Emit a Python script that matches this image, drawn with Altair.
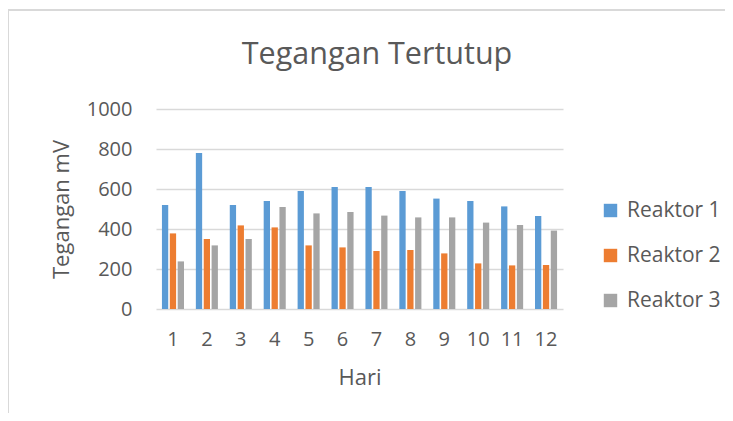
import altair as alt
import pandas as pd

hari = [str(i) for i in range(1, 13)]
reaktor1 = [520, 780, 520, 540, 590, 610, 610, 590, 552, 540, 513, 465]
reaktor2 = [378, 350, 418, 408, 318, 308, 290, 295, 278, 228, 218, 220]
reaktor3 = [238, 318, 350, 510, 478, 485, 467, 458, 458, 432, 420, 392]
series = ["Reaktor 1", "Reaktor 2", "Reaktor 3"]
colors = ["#5B9BD5", "#ED7D31", "#A5A5A5"]
title_text = ["Tegangan Tertutup"]

rows = []
for name, vals in zip(series, [reaktor1, reaktor2, reaktor3]):
    for h, v in zip(hari, vals):
        rows.append({"Hari": h, "Seri": name, "Nilai": v})
df = pd.DataFrame(rows)

FONT = "Open Sans"
TXT = "#595959"
BORDER = "#D9D9D9"

bars = alt.Chart(df).mark_bar().encode(
    x=alt.X("Hari:N", sort=hari,
            scale=alt.Scale(paddingInner=0.35, paddingOuter=0.175),
            axis=alt.Axis(title="Hari", labelAngle=0, ticks=False, domain=False,
                          labelPadding=20, titlePadding=18)),
    xOffset=alt.XOffset("Seri:N", sort=series,
                        scale=alt.Scale(paddingInner=0.2, paddingOuter=0)),
    y=alt.Y("Nilai:Q", scale=alt.Scale(domain=[0, 1000]),
            axis=alt.Axis(title="Tegangan mV", values=[0, 200, 400, 600, 800, 1000],
                          format="d",
                          ticks=False, domain=False, labelPadding=24, titlePadding=13,
                          gridColor=BORDER, gridWidth=1.3)),
    color=alt.Color("Seri:N", sort=series,
                    scale=alt.Scale(domain=series, range=colors),
                    legend=alt.Legend(title=None, orient="none", legendX=444, legendY=91,
                                      symbolType="square", symbolSize=180,
                                      symbolStrokeWidth=0, rowPadding=23,
                                      labelOffset=6)),
)

title = alt.Chart(pd.DataFrame({"t": title_text})).mark_text(
    font=FONT, fontSize=30.5, color=TXT, align="center", baseline="alphabetic"
).encode(x=alt.value(221), y=alt.value(-45), text="t:N")

left_line = alt.Chart(df).mark_rule(color=BORDER, strokeWidth=1.5).encode(
    x=alt.value(-148), y=alt.value(-99), y2=alt.value(310))
top_line = alt.Chart(df).mark_rule(color=BORDER, strokeWidth=1.5).encode(
    x=alt.value(-148), x2=alt.value(600), y=alt.value(-99))

chart = alt.layer(left_line, top_line, title, bars).properties(
    width=407, height=200,
    autosize=alt.AutoSizeParams(type="none"),
    padding={"left": 148, "top": 101, "right": 162, "bottom": 104},
).configure_axis(
    labelFont=FONT, titleFont=FONT, labelFontSize=20, titleFontSize=22,
    labelColor=TXT, titleColor=TXT, titleFontWeight="normal",
).configure_legend(
    labelFont=FONT, labelFontSize=21, labelColor=TXT,
).configure_view(stroke=None)

chart.save("out.html", embed_options={"renderer": "svg", "actions": False})
